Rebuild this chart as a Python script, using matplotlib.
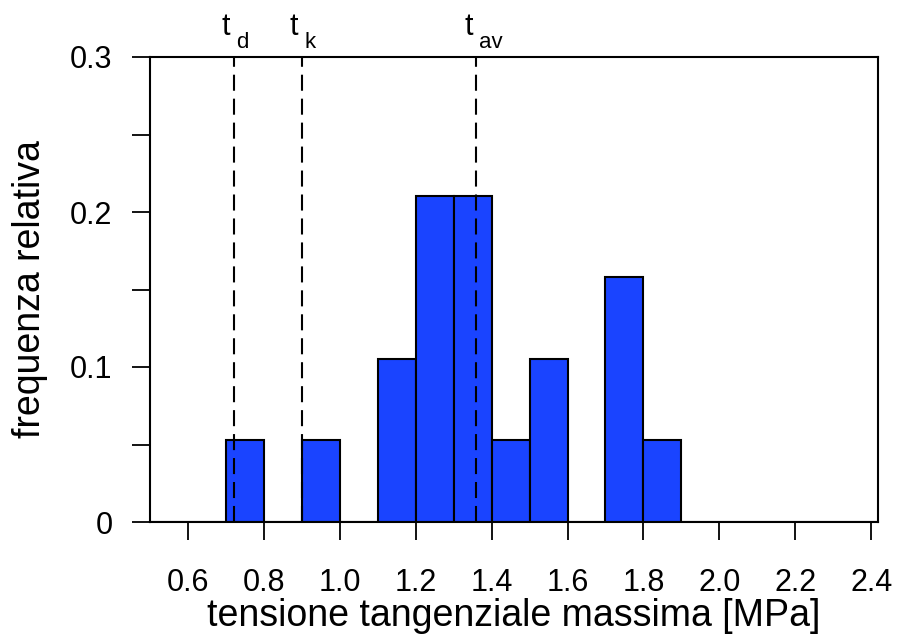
import numpy as np
import matplotlib
matplotlib.use("Agg")
import matplotlib.pyplot as plt
from matplotlib.transforms import offset_copy

plt.rcParams["font.family"] = ["Liberation Sans", "DejaVu Sans"]

# histogram bins (MPa) and observed counts per bin, n = 19 specimens
bin_edges = np.round(np.arange(0.5, 2.5001, 0.1), 2)
counts = [0, 0, 1, 0, 1, 0, 2, 4, 4, 1, 2, 0, 3, 1, 0, 0, 0, 0, 0, 0]
n_tot = 19
rel_freq = np.array(counts) / n_tot

# characteristic values marked with dashed lines
marker_names = ["d", "k", "av"]
marker_vals = [0.721, 0.901, 1.360]

xticks = [0.6, 0.8, 1.0, 1.2, 1.4, 1.6, 1.8, 2.0, 2.2, 2.4]
yticks = [0, 0.05, 0.1, 0.15, 0.2, 0.25, 0.3]
ylabels = ["0", "", "0.1", "", "0.2", "", "0.3"]

fig = plt.figure(figsize=(9.09, 6.37), dpi=100)
ax = fig.add_axes([150 / 909, 1 - 522 / 637, 728 / 909, 465 / 637])

ax.bar(bin_edges[:-1], rel_freq, width=0.1, align="edge",
       color="#1A44FF", edgecolor="black", linewidth=1.5)

ax.vlines(marker_vals, 0, 0.3, colors="black", linewidth=1.5,
          linestyles=(0, (7.7, 3.8)))

for name, v in zip(marker_names, marker_vals):
    t1 = offset_copy(ax.get_xaxis_transform(), fig=fig, x=-8, y=22, units="dots")
    ax.text(v, 1.0, "t", transform=t1, ha="center", va="baseline", fontsize=22)
    t2 = offset_copy(ax.get_xaxis_transform(), fig=fig, x=2.5, y=9, units="dots")
    ax.text(v, 1.0, name, transform=t2, ha="left", va="baseline", fontsize=16)

ax.set_xlim(0.5, 2.418)
ax.set_ylim(0, 0.3)
ax.set_xticks(xticks)
ax.set_xticklabels([f"{x:.1f}" for x in xticks])
ax.set_yticks(yticks)
ax.set_yticklabels(ylabels)
ax.tick_params(axis="x", direction="out", length=13, width=1.3, pad=20, labelsize=22)
ax.tick_params(axis="y", direction="out", length=13, width=1.3, pad=14, labelsize=22)
for s in ax.spines.values():
    s.set_linewidth(1.5)

ax.set_xlabel("tensione tangenziale massima [MPa]", fontsize=27, labelpad=0)
ax.set_ylabel("frequenza relativa", fontsize=27, labelpad=16)

fig.savefig("out.png", dpi=100)
